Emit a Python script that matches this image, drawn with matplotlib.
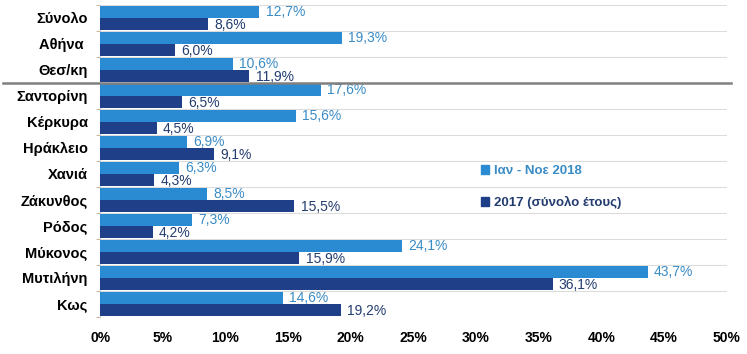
import matplotlib
matplotlib.use("Agg")
import matplotlib.pyplot as plt
import matplotlib.transforms as mtransforms
from matplotlib.lines import Line2D
from matplotlib.patches import Patch
import numpy as np

plt.rcParams['font.family'] = ['Liberation Sans', 'DejaVu Sans']

categories = ["Σύνολο", "Αθήνα ", "Θεσ/κη", "Σαντορίνη", "Κέρκυρα", "Ηράκλειο",
              "Χανιά", "Ζάκυνθος", "Ρόδος", "Μύκονος", "Μυτιλήνη", "Κως"]
vals_2018 = [12.7, 19.3, 10.6, 17.6, 15.6, 6.9, 6.3, 8.5, 7.3, 24.1, 43.7, 14.6]
vals_2017 = [8.6, 6.0, 11.9, 6.5, 4.5, 9.1, 4.3, 15.5, 4.2, 15.9, 36.1, 19.2]
series_labels = ["Ιαν - Νοε 2018", "2017 (σύνολο έτους)"]
xticks = [0, 5, 10, 15, 20, 25, 30, 35, 40, 45, 50]

c_light = "#2a8bd2"
c_dark = "#1f3f88"
t_light = "#3a8cc6"
t_dark = "#233d70"

fig = plt.figure(figsize=(7.47, 3.54), dpi=100)
ax = fig.add_axes([0.134, 0.105, 0.839, 0.881])

y = np.arange(len(categories))
h = 0.46
ax.barh(y - h / 2, vals_2018, height=h, color=c_light, label=series_labels[0], zorder=3)
ax.barh(y + h / 2, vals_2017, height=h, color=c_dark, label=series_labels[1], zorder=3)

for yi, v in zip(y, vals_2018):
    ax.annotate(f"{v:.1f}".replace(".", ",") + "%", (v, yi - h / 2), xytext=(4.5, 0),
                textcoords="offset points", va="center", ha="left",
                color=t_light, fontsize=10, zorder=4)
for yi, v in zip(y, vals_2017):
    ax.annotate(f"{v:.1f}".replace(".", ",") + "%", (v, yi + h / 2), xytext=(4.5, -1),
                textcoords="offset points", va="center", ha="left",
                color=t_dark, fontsize=10, zorder=4)

ax.set_xlim(0, 50)
ax.set_ylim(len(categories) - 0.5, -0.5)
ax.set_xticks(xticks)
ax.set_xticklabels([f"{t}%" for t in xticks], fontweight="bold", fontsize=10)
ax.tick_params(axis="x", length=0, pad=10)
ax.set_yticks(y)
ax.set_yticklabels(categories, fontweight="bold", fontsize=10.5)
ax.tick_params(axis="y", which="major", length=0, pad=9)
bounds = np.arange(len(categories) + 1) - 0.5
ax.set_yticks(bounds, minor=True)
ax.tick_params(axis="y", which="minor", length=3, color="#c8b8a0", width=0.8)

for b in bounds:
    ax.axhline(b, color="#dcdcdc", lw=0.8, zorder=1)

for s in ["top", "right", "bottom"]:
    ax.spines[s].set_visible(False)
ax.spines["left"].set_color("#cccccc")
ax.spines["left"].set_linewidth(0.8)

# separator line between Θεσ/κη and Σαντορίνη
trans = mtransforms.blended_transform_factory(fig.transFigure, ax.transData)
ax.add_line(Line2D([0.004, 0.978], [2.5, 2.5], transform=trans, color="#808080",
                   lw=1.8, clip_on=False, zorder=5))

handles = [Patch(color=c_light), Patch(color=c_dark)]
leg = fig.legend(handles, series_labels, loc="upper left", bbox_to_anchor=(0.628, 0.567),
                 frameon=False, handlelength=0.6, handleheight=0.6, handletextpad=0.35,
                 labelspacing=1.45, prop={"weight": "bold", "size": 9.5})
for txt, col in zip(leg.get_texts(), [t_light, t_dark]):
    txt.set_color(col)

fig.savefig("out.png", dpi=100)
